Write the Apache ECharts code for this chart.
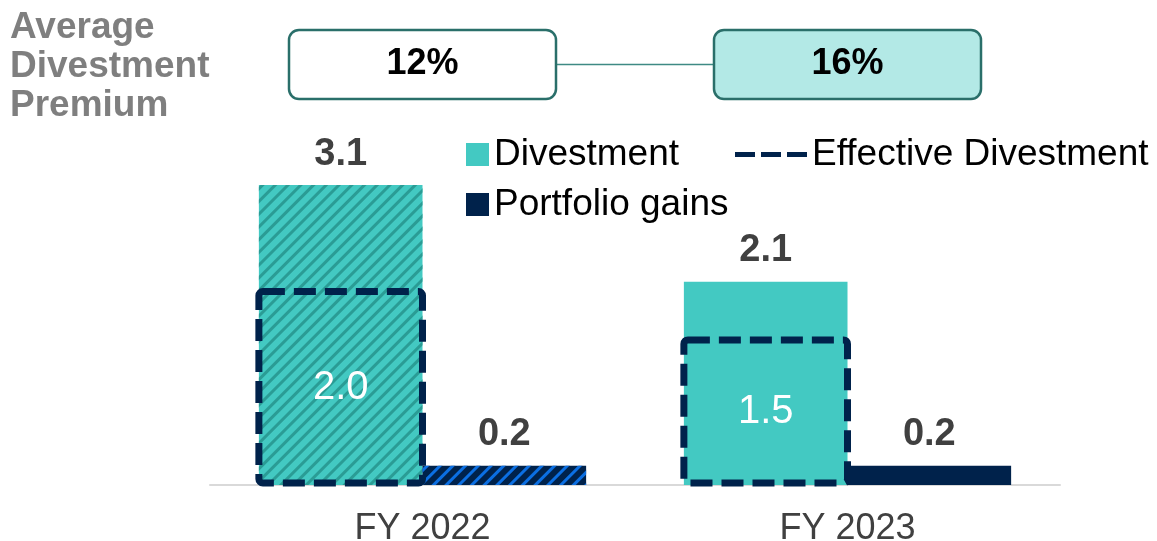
<!DOCTYPE html>
<html>
<head>
<meta charset="utf-8">
<script src="https://cdn.jsdelivr.net/npm/echarts@6/dist/echarts.min.js"></script>
<style>
  html, body { margin: 0; padding: 0; background: #fff; }
  #chart { width: 1157px; height: 541px; }
</style>
</head>
<body>
<div id="chart"></div>
<script>
const categories = ['FY 2022', 'FY 2023'];
const divestment = [3.1, 2.1];
const portfolioGains = [0.2, 0.2];
const effectiveDivestment = [2.0, 1.5];
const premiums = ['12%', '16%'];

const TEAL = '#43C9C2';
const NAVY = '#00224B';
const FONT = '"Liberation Sans", Arial, sans-serif';
const CAT_GAP = 0.23;

const chart = echarts.init(document.getElementById('chart'));

// FY 2022 bars are hatched, FY 2023 are solid
const hatch = color => ({
  symbol: 'rect',
  dashArrayX: [1, 0],
  dashArrayY: [3, 6],
  rotation: -Math.PI / 4,
  color: color
});

const valueLabel = {
  show: true,
  position: 'top',
  distance: 12,
  color: '#404040',
  fontFamily: FONT,
  fontWeight: 'bold',
  fontSize: 38,
  formatter: p => p.value.toFixed(1)
};

const legendText = { fontFamily: FONT, fontSize: 37, color: '#000' };

const option = {
  animation: false,
  grid: { left: 210, right: 97, top: 98, bottom: 56, outerBoundsMode: 'none' },
  legend: [
    {
      left: 461, top: 131,
      itemWidth: 23, itemHeight: 23, itemGap: 8,
      textStyle: legendText,
      data: [{ name: 'Divestment', icon: 'rect' }]
    },
    {
      left: 730, top: 131,
      itemWidth: 72, itemHeight: 5,
      textStyle: legendText,
      data: [{
        name: 'Effective Divestment',
        icon: 'path://M0,0h20v5h-20z M26,0h20v5h-20z M52,0h20v5h-20z',
        itemStyle: { color: NAVY }
      }]
    },
    {
      left: 461, top: 181,
      itemWidth: 23, itemHeight: 23,
      textStyle: legendText,
      data: [{ name: 'Portfolio gains', icon: 'rect' }]
    }
  ],
  xAxis: {
    type: 'category',
    data: categories,
    axisLine: { lineStyle: { color: '#D9D9D9', width: 2 } },
    axisTick: { show: false },
    axisLabel: { color: '#404040', fontFamily: FONT, fontSize: 36, margin: 26 }
  },
  yAxis: { type: 'value', min: 0, max: 4, show: false, splitLine: { show: false } },
  series: [
    {
      name: 'Divestment',
      type: 'bar',
      barGap: '0%',
      barCategoryGap: CAT_GAP * 100 + '%',
      itemStyle: { color: TEAL },
      label: valueLabel,
      data: divestment.map((v, i) => i === 0
        ? { value: v, itemStyle: { decal: hatch('#2A9C95') } }
        : v)
    },
    {
      name: 'Portfolio gains',
      type: 'bar',
      itemStyle: { color: NAVY },
      label: valueLabel,
      data: portfolioGains.map((v, i) => i === 0
        ? { value: v, itemStyle: { decal: hatch('#0B6FE3') } }
        : v)
    },
    {
      name: 'Effective Divestment',
      type: 'custom',
      z: 5,
      itemStyle: { color: NAVY },
      renderItem: (params, api) => {
        const top = api.coord([api.value(0), api.value(1)]);
        const base = api.coord([api.value(0), 0]);
        const band = api.size([1, 0])[0];
        const w = band * (1 - CAT_GAP) / 2;
        return {
          type: 'group',
          children: [
            {
              type: 'rect',
              shape: { x: top[0] - w, y: top[1], width: w, height: base[1] - top[1] - 2, r: 4 },
              style: { fill: 'none', stroke: NAVY, lineWidth: 7, lineDash: [22, 9] }
            },
            {
              type: 'text',
              style: {
                text: api.value(1).toFixed(1),
                x: top[0] - w / 2,
                y: (top[1] + base[1]) / 2,
                align: 'center',
                verticalAlign: 'middle',
                fill: '#fff',
                font: '40px ' + FONT
              }
            }
          ]
        };
      },
      data: effectiveDivestment.map((v, i) => [i, v])
    }
  ]
};

chart.setOption(option);

// premium boxes above each category
const centers = categories.map(c => chart.convertToPixel({ xAxisIndex: 0 }, c));
const boxW = 267, boxH = 69, boxTop = 30;
const graphic = [
  {
    type: 'text',
    left: 10, top: 8,
    style: {
      text: 'Average\nDivestment\nPremium',
      fill: '#7F7F7F',
      font: 'bold 37px ' + FONT,
      lineHeight: 39
    }
  },
  {
    type: 'line',
    shape: { x1: centers[0] + boxW / 2, y1: boxTop + boxH / 2, x2: centers[1] - boxW / 2, y2: boxTop + boxH / 2 },
    style: { stroke: '#3E8A84', lineWidth: 1.5 }
  }
];
premiums.forEach((p, i) => {
  graphic.push({
    type: 'rect',
    shape: { x: centers[i] - boxW / 2, y: boxTop, width: boxW, height: boxH, r: 10 },
    style: { fill: i === 0 ? '#fff' : '#B3E9E6', stroke: '#2A6F6A', lineWidth: 2.5 }
  });
  graphic.push({
    type: 'text',
    style: {
      text: p,
      x: centers[i],
      y: boxTop + boxH / 2,
      align: 'center',
      verticalAlign: 'middle',
      fill: '#000',
      font: 'bold 36px ' + FONT
    }
  });
});
chart.setOption({ graphic: graphic });
</script>
</body>
</html>
